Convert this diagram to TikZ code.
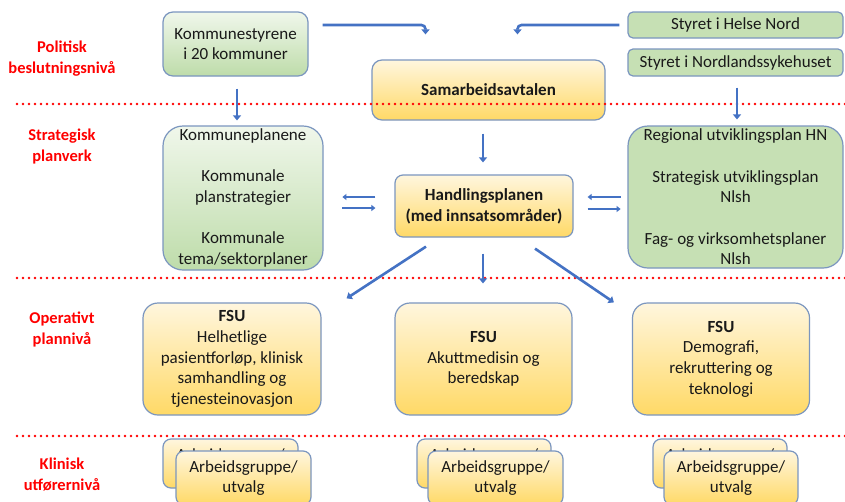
\documentclass[tikz,border=0pt]{standalone}
\usepackage{fontspec}
\setmainfont{Carlito}
\usetikzlibrary{calc,arrows.meta}
\definecolor{arrblue}{HTML}{4472C4}
\definecolor{bord}{HTML}{7B96BF}
\definecolor{gtop}{HTML}{F0F7EB}
\definecolor{gbot}{HTML}{BEDCAA}
\definecolor{gsolid}{HTML}{C6E0B4}
\definecolor{ytop}{HTML}{FFF6DE}
\definecolor{ybot}{HTML}{FFD966}
\newcommand{\backtext}{\raisebox{-3.5pt}[\height][\depth]{\begin{tabular}{@{}c@{}}Arbeidsgruppe/\\utvalg\end{tabular}}}
\tikzset{
 box/.style={draw=bord, line width=1.2pt, align=center, inner sep=0pt, text=black!90, font=\fontsize{17}{20.7}\selectfont},
 gbox/.style={box, top color=gtop, bottom color=gbot},
 sbox/.style={box, fill=gsolid},
 ybox/.style={box, top color=ytop, bottom color=ybot},
 lvl/.style={text=red, font=\fontsize{16.5}{21}\selectfont\bfseries, align=center},
 sep/.style={red, line width=2.6pt, dash pattern=on 0pt off 6pt, line cap=round},
 arr/.style={arrblue, line width=2.6pt, -{Triangle[length=5pt,width=8pt]}},
 arr2/.style={arrblue, line width=1.8pt, -{Triangle[length=4pt,width=6pt]}},
}
\begin{document}
\begin{tikzpicture}[x=1pt,y=-1pt]
\clip (0,0) rectangle (845,501);
\fill[white] (0,0) rectangle (845,501);

% level labels
\node[lvl] (l1) at (62,59) {Politisk\\beslutningsnivå};
\node[lvl] (l2) at (62,147) {Strategisk\\planverk};
\node[lvl] (l3) at (62,329) {Operativt\\plannivå};
\node[lvl] (l4) at (62,475) {Klinisk\\utførernivå};

% top row
\node[gbox, rounded corners=10pt, minimum width=145pt, minimum height=64pt] (k) at (235.5,44) {Kommunestyrene\\i 20 kommuner};
\node[ybox, rounded corners=10pt, minimum width=233pt, minimum height=60pt] (s) at (488.5,90) {\bfseries Samarbeidsavtalen};
\node[sbox, rounded corners=5pt, minimum width=215pt, minimum height=26pt] (hn) at (735.5,25) {Styret i Helse Nord};
\node[sbox, rounded corners=5pt, minimum width=215pt, minimum height=27pt] (nl) at (735.5,62.5) {Styret i Nordlandssykehuset};

% strategic row
\node[gbox, rounded corners=20pt, minimum width=160pt, minimum height=144pt] (kp) at (243,198) {Kommuneplanene\\[20.7pt]Kommunale\\planstrategier\\[20.7pt]Kommunale\\tema/sektorplaner};
\node[sbox, rounded corners=20pt, minimum width=215pt, minimum height=142pt] (rp) at (735.5,197) {Regional utviklingsplan HN\\[20.7pt]Strategisk utviklingsplan\\Nlsh\\[20.7pt]Fag- og virksomhetsplaner\\Nlsh};
\node[ybox, rounded corners=8pt, minimum width=178pt, minimum height=62pt] (h) at (484,206) {\bfseries Handlingsplanen\\\bfseries (med innsatsområder)};

% operative row
\node[ybox, rounded corners=15pt, minimum width=178pt, minimum height=112pt] (f1) at (232,359) {\bfseries FSU\\Helhetlige\\pasientforløp, klinisk\\samhandling og\\tjenesteinovasjon};
\node[ybox, rounded corners=15pt, minimum width=177pt, minimum height=112pt] (f2) at (483.5,359) {\bfseries FSU\\Akuttmedisin og\\beredskap};
\node[ybox, rounded corners=15pt, minimum width=177pt, minimum height=112pt] (f3) at (721,359) {\bfseries FSU\\Demografi,\\rekruttering og\\teknologi};

% clinical row
\node[ybox, rounded corners=8pt, minimum width=135pt, minimum height=49pt] (a1b) at (230.5,463.5) {\backtext};
\node[ybox, rounded corners=8pt, minimum width=135pt, minimum height=54pt] (a1) at (243.5,478) {Arbeidsgruppe/\\utvalg};
\node[ybox, rounded corners=8pt, minimum width=134pt, minimum height=49pt] (a2b) at (484,463.5) {\backtext};
\node[ybox, rounded corners=8pt, minimum width=135pt, minimum height=54pt] (a2) at (495.5,478) {Arbeidsgruppe/\\utvalg};
\node[ybox, rounded corners=8pt, minimum width=134pt, minimum height=49pt] (a3b) at (720,463.5) {\backtext};
\node[ybox, rounded corners=8pt, minimum width=134pt, minimum height=54pt] (a3) at (731,478) {Arbeidsgruppe/\\utvalg};

% separators
\coordinate (d1a) at (17,104); \coordinate (d1b) at (845,104);
\coordinate (d2a) at (17,278); \coordinate (d2b) at (845,278);
\coordinate (d3a) at (17,436); \coordinate (d3b) at (845,436);
\draw[sep] (d1a) -- (d1b);
\draw[sep] (d2a) -- (d2b);
\draw[sep] (d3a) -- (d3b);

% connectors
\draw[arr, rounded corners=4pt] ($(k.east)+(14,-19)$) -| ($(s.north)+(-63,-25)$);
\draw[arr, rounded corners=4pt] ($(hn.west)+(-8,0)$) -| ($(s.north)+(29,-25)$);
\draw[arr] ($(k.south)+(1.5,12)$) -- ($(k.south |- kp.north)+(1.5,-5)$);
\draw[arr] ($(nl.south)+(1.5,11)$) -- ($(nl.south |- rp.north)+(1.5,-6)$);
\draw[arr] ($(h.north |- s.south)+(-1,13)$) -- ($(h.north)+(-1,-12)$);

\draw[arr2] ($(h.west)+(-19,-9)$) -- ($(h.west)+(-52,-9)$);
\draw[arr2] ($(h.west)+(-52,2)$) -- ($(h.west)+(-19,2)$);
\draw[arr2] ($(h.east)+(47,-9)$) -- ($(h.east)+(14,-9)$);
\draw[arr2] ($(h.east)+(14,3)$) -- ($(h.east)+(47,3)$);

\draw[arr] ($(h.south)+(-58,9)$) -- ($(f1.north east)+(25,-4)$);
\draw[arr] ($(h.south)+(-1,16)$) -- ($(f2.north)+(-0.5,-19)$);
\draw[arr] ($(h.south)+(51,11)$) -- ($(f3.north west)+(-18,0)$);
\end{tikzpicture}
\end{document}
